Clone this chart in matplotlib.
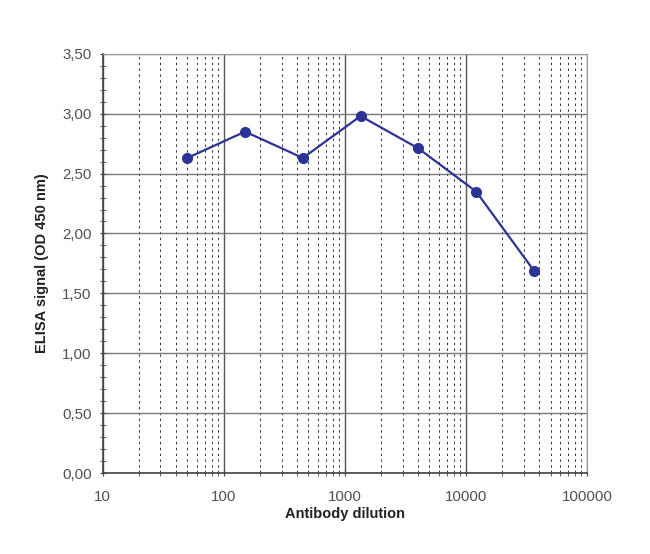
import matplotlib.pyplot as plt
from matplotlib.ticker import LogLocator, FixedLocator, FuncFormatter, MultipleLocator

dilution = [50, 150, 450, 1350, 4050, 12150, 36450]
signal = [2.63, 2.85, 2.63, 2.98, 2.71, 2.35, 1.69]
y_ticks = [0.0, 0.5, 1.0, 1.5, 2.0, 2.5, 3.0, 3.5]
x_ticks = [10, 100, 1000, 10000, 100000]

plt.rcParams['font.family'] = ['Liberation Sans', 'DejaVu Sans']

fig = plt.figure(figsize=(6.5, 5.54), dpi=100)
ax = fig.add_axes([0.158, 0.146, 0.745, 0.757])

ax.set_xscale('log')
ax.set_xlim(10, 100000)
ax.set_ylim(0, 3.5)

ax.plot(dilution, signal, color='#2b3494', lw=1.6, marker='o', ms=7,
        zorder=5, clip_on=False)

ax.xaxis.set_major_locator(FixedLocator(x_ticks))
ax.xaxis.set_minor_locator(LogLocator(base=10, subs=range(2, 10)))
ax.xaxis.set_major_formatter(FuncFormatter(lambda v, p: f'{int(v)}'))
ax.xaxis.set_minor_formatter(FuncFormatter(lambda v, p: ''))

ax.yaxis.set_major_locator(FixedLocator(y_ticks))
ax.yaxis.set_minor_locator(MultipleLocator(0.1))
ax.yaxis.set_major_formatter(FuncFormatter(lambda v, p: f'{v:.2f}'.replace('.', ',')))

ax.grid(which='major', axis='y', color='#7a7a7a', lw=1.0)
ax.grid(which='major', axis='x', color='#555555', lw=1.0)
ax.grid(which='minor', axis='x', color='#333333', lw=0.7, ls=(0, (2.5, 3.5)))

for s in ['top', 'right']:
    ax.spines[s].set_color('#999999')
for s in ['left', 'bottom']:
    ax.spines[s].set_color('#444444')
    ax.spines[s].set_linewidth(1.2)

ax.tick_params(which='major', length=4, direction='inout', color='#444444',
               labelsize=10.8, labelcolor='#505050', pad=6)
ax.tick_params(which='minor', length=4, direction='inout', color='#444444')
ax.tick_params(axis='x', which='major', pad=10)

ax.set_xlabel('Antibody dilution', fontsize=10.5, fontweight='bold', color='#222222', labelpad=2)
ax.set_ylabel('ELISA signal (OD 450 nm)', fontsize=10.5, fontweight='bold', color='#222222', labelpad=9)

fig.savefig('out.png', dpi=100)
